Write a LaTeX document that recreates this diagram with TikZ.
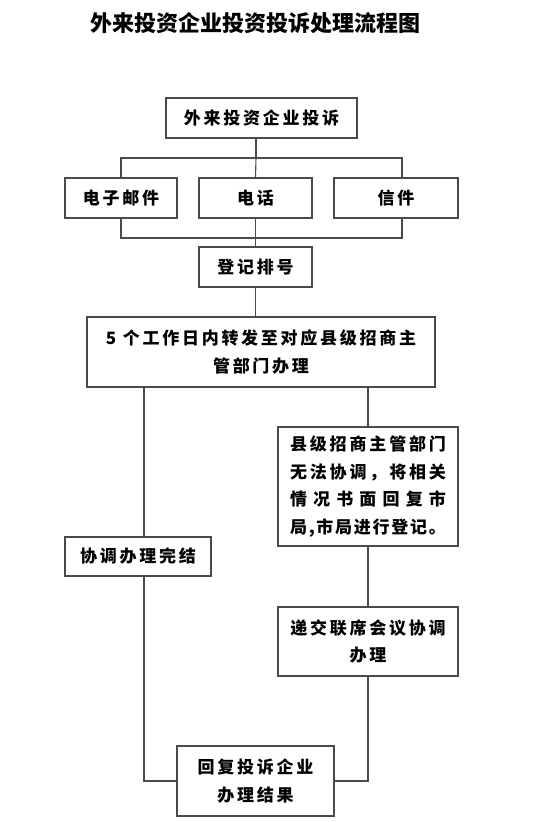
\documentclass[tikz,border=0pt]{standalone}
\usepackage{fontspec}
\setmainfont{Noto Sans CJK SC}
\newfontfamily\boxfam{Noto Sans CJK SC}[LetterSpace=16]
\usetikzlibrary{positioning}
\definecolor{lineGray}{HTML}{4A4A4A}
\newcommand{\boxfont}{\boxfam\fontsize{17}{27.5}\selectfont\bfseries}
\makeatletter
\newcommand{\fullline}[1]{\hbox to 156pt{\@tfor\sp@c:=#1\do{\sp@c\hfil}\unskip}}
\makeatother

\begin{document}
\begin{tikzpicture}[
  x=1pt, y=-1pt,
  stepbox/.style={draw=lineGray, line width=1.1pt, fill=white, inner sep=0pt, align=center, font=\boxfont},
  conn/.style={draw=lineGray, line width=1.1pt},
]
\useasboundingbox (0,0) rectangle (534,822);

% Title
\node[font=\fontsize{22}{22}\selectfont\bfseries] (title) at (255.5,23) {外来投资企业投资投诉处理流程图};

% Complaint and its three channels
\node[stepbox, minimum width=191pt, minimum height=40pt] (src) at (261.5,118) {外来投资企业投诉};
\node[stepbox, minimum width=112pt, minimum height=40pt] (mail) at (121,198) {电子邮件};
\node[stepbox, minimum width=113pt, minimum height=40pt] (phone) at (255.5,198) {电话};
\node[stepbox, minimum width=124pt, minimum height=40pt] (letter) at (396,198) {信件};
\node[stepbox, minimum width=113pt, minimum height=40pt] (reg) at (255.5,267) {登记排号};
\node[stepbox, minimum width=348pt, minimum height=70pt] (fwd) at (261,352)
  {5 个工作日内转发至对应县级招商主\\管部门办理};

% Two lanes: done at county level / passed on to the city
\node[stepbox, minimum width=146pt, minimum height=39pt] (done) at (138,556.5) {协调办理完结};
\node[stepbox, minimum width=180pt, minimum height=119pt] (county) at (368,486.5)
  {\fullline{县级招商主管部门}\\\fullline{无法协调，将相关}\\\fullline{情况书面回复市}\\\fullline{局,市局进行登记。}};
\node[stepbox, minimum width=180pt, minimum height=69pt] (meet) at (368,641.5)
  {递交联席会议协调\\办理};
\node[stepbox, minimum width=157pt, minimum height=70pt] (reply) at (255.5,781)
  {回复投诉企业\\办理结果};

% Fork and join points
\coordinate (split) at (256,158);
\coordinate (splitL) at (121,158);
\coordinate (splitR) at (402,158);
\coordinate (joinL) at (121,238);
\coordinate (joinR) at (402,238);
\coordinate (laneL) at (144,0);
\coordinate (laneR) at (368,0);

% Connectors
\draw[conn] (src.south -| split) -- (split);
\draw[conn] (mail.north) -- (splitL) -- (splitR) -- (letter.north -| splitR);
\draw[conn] (phone.north) -- (split);
\draw[conn] (mail.south) -- (joinL) -- (joinR) -- (letter.south -| joinR);
\draw[conn] (phone.south) -- (reg.north);
\draw[conn] (reg.south) -- (reg.south |- fwd.north);
\draw[conn] (fwd.south -| laneL) -- (done.north -| laneL);
\draw[conn] (fwd.south -| laneR) -- (county.north);
\draw[conn] (county.south) -- (meet.north);
\draw[conn] (done.south -| laneL) |- (reply.west);
\draw[conn] (meet.south) |- (reply.east);
\end{tikzpicture}
\end{document}
